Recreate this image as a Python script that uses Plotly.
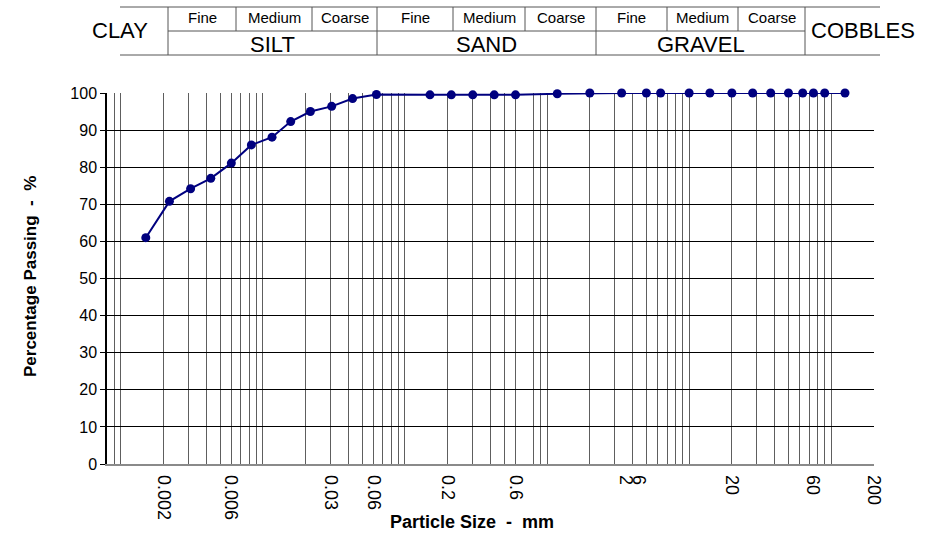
import math
import plotly.graph_objects as go

# Grading test results: particle size (mm) and cumulative percentage passing
size_mm = [0.0015, 0.0022, 0.0031, 0.0043, 0.006, 0.0083, 0.0116, 0.0157,
           0.0216, 0.0305, 0.0428, 0.063, 0.15, 0.212, 0.3, 0.425, 0.6,
           1.18, 2, 3.35, 5, 6.3, 10, 14, 20, 28, 37.5, 50, 63, 75, 90, 125]
percent_passing = [61.0, 70.8, 74.2, 77.0, 81.1, 86.0, 88.1, 92.3,
                   95.0, 96.4, 98.5, 99.6, 99.5, 99.5, 99.5, 99.5, 99.5,
                   99.8, 100, 100, 100, 100, 100, 100, 100, 100, 100, 100,
                   100, 100, 100, 100]

# Log-cycle grid lines on the size axis
grid_sizes = [0.0008, 0.0009,
              0.001, 0.002, 0.003, 0.004, 0.005, 0.006, 0.007, 0.008, 0.009,
              0.01, 0.02, 0.03, 0.04, 0.05, 0.06, 0.07, 0.08, 0.09,
              0.1, 0.2, 0.3, 0.4, 0.5, 0.6, 0.8, 0.9,
              1, 2, 3, 4, 5, 6, 7, 8, 9,
              10, 20, 30, 40, 50, 60, 70, 80, 90,
              100, 200]

# Size-axis labels and where they sit along the axis
size_labels = ["0.002", "0.006", "0.03", "0.06", "0.2", "0.6", "2", "6", "20", "60", "200"]
size_label_pos = [0.002, 0.006, 0.03, 0.06, 0.2, 0.6, 3.6, 4.45, 20, 74, 200]

y_ticks = list(range(0, 101, 10))

x_range = [math.log10(0.0008), math.log10(200)]

W, H = 931, 536
ML, MR, MT, MB = 107, 57, 93, 72
PW, PH = W - ML - MR, H - MT - MB


def px(x):
    return (x - ML) / PW


def py(y):
    return (H - MB - y) / PH


FONT = "Liberation Sans, Arial, sans-serif"

fig = go.Figure()
fig.add_trace(go.Scatter(
    x=size_mm, y=percent_passing, mode="lines+markers",
    line=dict(color="#00007f", width=2),
    marker=dict(color="#00007f", size=9),
    cliponaxis=False, showlegend=False,
))

shapes = []
annotations = []

# Soil classification header band
line_col = "#555555"
y_top, y_mid, y_bot = 7, 31, 55
shapes.append(dict(type="line", xref="paper", yref="paper",
                   x0=px(120), x1=px(880), y0=py(y_top), y1=py(y_top),
                   line=dict(color=line_col, width=1)))
shapes.append(dict(type="line", xref="paper", yref="paper",
                   x0=px(120), x1=px(880), y0=py(y_bot), y1=py(y_bot),
                   line=dict(color=line_col, width=1)))
shapes.append(dict(type="line", xref="paper", yref="paper",
                   x0=px(168), x1=px(805), y0=py(y_mid), y1=py(y_mid),
                   line=dict(color=line_col, width=1)))
for xv in [168, 377, 596, 805]:
    shapes.append(dict(type="line", xref="paper", yref="paper",
                       x0=px(xv), x1=px(xv), y0=py(y_top), y1=py(y_bot),
                       line=dict(color=line_col, width=1)))
for xv in [236, 312, 453, 525, 667, 738]:
    shapes.append(dict(type="line", xref="paper", yref="paper",
                       x0=px(xv), x1=px(xv), y0=py(y_top), y1=py(y_mid),
                       line=dict(color=line_col, width=1)))

sub_names = ["Fine", "Medium", "Coarse"]
sub_bounds = [[168, 236, 312, 377], [377, 453, 525, 596], [596, 667, 738, 805]]
for bounds in sub_bounds:
    for i, name in enumerate(sub_names):
        cx = (bounds[i] + bounds[i + 1]) / 2
        annotations.append(dict(xref="paper", yref="paper", x=px(cx), y=py(18),
                                text=name, showarrow=False, xanchor="center",
                                yanchor="middle",
                                font=dict(family=FONT, size=15, color="#000")))

for name, (a, b) in zip(["SILT", "SAND", "GRAVEL"], [(168, 377), (377, 596), (596, 805)]):
    annotations.append(dict(xref="paper", yref="paper", x=px((a + b) / 2), y=py(44),
                            text=name, showarrow=False, xanchor="center",
                            yanchor="middle",
                            font=dict(family=FONT, size=22, color="#000")))

annotations.append(dict(xref="paper", yref="paper", x=px(120), y=py(31),
                        text="CLAY", showarrow=False, xanchor="center", yanchor="middle",
                        font=dict(family=FONT, size=22, color="#000")))
annotations.append(dict(xref="paper", yref="paper", x=px(809), y=py(31),
                        text="COBBLES", showarrow=False, xanchor="left", yanchor="middle",
                        font=dict(family=FONT, size=22, color="#000")))

# Axis titles
annotations.append(dict(xref="paper", yref="paper", x=px(472), y=py(522),
                        text="<b>Particle Size\u00a0\u00a0-\u00a0\u00a0mm</b>", showarrow=False,
                        xanchor="center", yanchor="middle",
                        font=dict(family=FONT, size=18, color="#000")))
annotations.append(dict(xref="paper", yref="paper", x=px(30), y=py(277),
                        text="<b>Percentage Passing\u00a0\u00a0-\u00a0\u00a0%</b>", showarrow=False,
                        textangle=-90, xanchor="center", yanchor="middle",
                        font=dict(family=FONT, size=17, color="#000")))

fig.update_layout(
    width=W, height=H,
    margin=dict(l=ML, r=MR, t=MT, b=MB),
    paper_bgcolor="white", plot_bgcolor="white",
    shapes=shapes, annotations=annotations,
    xaxis=dict(type="log", range=x_range, tickmode="array", tickvals=grid_sizes,
               showticklabels=False, ticks="", showgrid=True,
               gridcolor="#5e5e5e", gridwidth=1, zeroline=False,
               showline=True, linecolor="#8a8a8a", linewidth=2, mirror=False),
    xaxis2=dict(type="log", range=x_range, overlaying="x", anchor="y", side="bottom",
                tickmode="array", tickvals=size_label_pos, ticktext=size_labels,
                tickangle=90, ticks="", showgrid=False, zeroline=False,
                ticklabelstandoff=10,
                tickfont=dict(family=FONT, size=18, color="#000")),
    yaxis=dict(range=[0, 100], tickmode="array", tickvals=y_ticks,
               ticks="outside", ticklen=5, tickcolor="#000", tickwidth=1,
               showgrid=True, gridcolor="#000", gridwidth=1, zeroline=False,
               showline=True, linecolor="#000", linewidth=1.5,
               tickfont=dict(family=FONT, size=16, color="#000")),
)

# Empty trace to bring the label axis into play
fig.add_trace(go.Scatter(x=[size_mm[0]], y=[None], xaxis="x2", yaxis="y",
                         showlegend=False, hoverinfo="skip"))

fig.write_html("out.html")
